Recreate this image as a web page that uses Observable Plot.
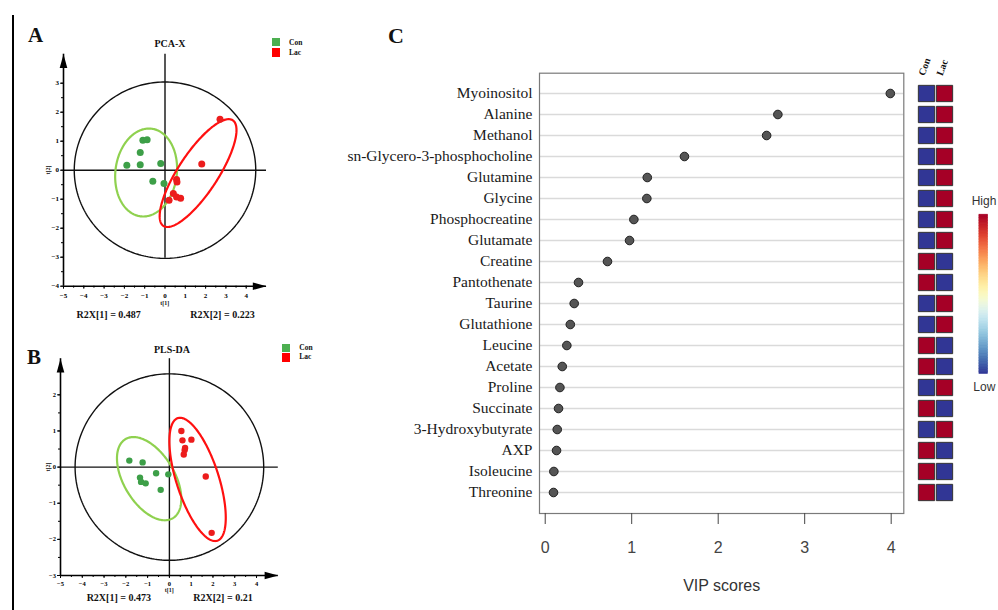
<!DOCTYPE html>
<html><head><meta charset="utf-8">
<script src="https://cdn.jsdelivr.net/npm/d3@7"></script>
<script src="https://cdn.jsdelivr.net/npm/@observablehq/plot@0.6"></script>
<style>
body{margin:0;background:#fff;}
#fig{position:relative;width:998px;height:610px;overflow:hidden;background:#fff;}
#fig svg{position:absolute;overflow:visible;}
.t{position:absolute;white-space:nowrap;line-height:1;color:#111;}
</style></head><body><div id="fig"></div>
<script>
// ---------------- DATA ----------------
const groups = ["Con", "Lac"];
// Panel A (PCA-X) scores
const pcaConX = [-1.88, -1.22, -1.22, -1.09, -0.88, -0.21, -0.60, -0.05];
const pcaConY = [0.17, 0.19, 0.61, 1.03, 1.05, 0.23, -0.38, -0.46];
const pcaLacX = [2.71, 1.81, 0.57, 0.59, 0.41, 0.57, 0.77, 0.20];
const pcaLacY = [1.76, 0.21, -0.32, -0.41, -0.80, -0.92, -0.97, -1.04];
// Panel B (PLS-DA) scores
const plsConX = [-1.84, -1.23, -1.35, -1.30, -1.09, -0.61, -0.05, -0.40];
const plsConY = [0.18, 0.13, -0.29, -0.41, -0.45, -0.17, -0.20, -0.63];
const plsLacX = [0.55, 0.60, 1.01, 0.72, 0.66, 1.67, 1.94, 0.70];
const plsLacY = [1.00, 0.74, 0.76, 0.53, 0.35, -0.26, -1.82, 0.47];
// Ellipses: [cx, cy, ax, ay, bx, by] = centre + two conjugate semi-diameters (data units)
const pcaT2 = [0, 0, 4.47, 0, 0, 3.04];
const pcaConEll = [-0.93, -0.08, 0.277, 1.51, 1.50, -0.136];
const pcaLacEll = [1.63, -0.10, 1.71, 1.82, 0.81, -0.38];
const plsT2 = [0, 0, 4.33, 0, 0, 2.58];
const plsConEll = [-0.93, -0.32, -1.087, 1.094, 1.0, 0.36];
const plsLacEll = [1.294, -0.341, -0.905, 1.696, 0.925, 0.179];
// axis extents
const pcaXDomain = [-5, 5], pcaYDomain = [-4, 4];
const plsXDomain = [-5, 5], plsYDomain = [-3, 3];
const pcaXTicks = [-5, -4, -3, -2, -1, 0, 1, 2, 3, 4];
const pcaYTicks = [-4, -3, -2, -1, 0, 1, 2, 3];
const plsXTicks = [-5, -4, -3, -2, -1, 0, 1, 2, 3, 4];
const plsYTicks = [-3, -2, -1, 0, 1, 2];
const r2xA = ["R2X[1] = 0.487", "R2X[2] = 0.223"];
const r2xB = ["R2X[1] = 0.473", "R2X[2] = 0.21"];
// Panel C
const metabolites = ["Myoinositol", "Alanine", "Methanol", "sn-Glycero-3-phosphocholine", "Glutamine",
  "Glycine", "Phosphocreatine", "Glutamate", "Creatine", "Pantothenate", "Taurine", "Glutathione",
  "Leucine", "Acetate", "Proline", "Succinate", "3-Hydroxybutyrate", "AXP", "Isoleucine", "Threonine"];
const vipScores = [3.99, 2.69, 2.56, 1.61, 1.18, 1.175, 1.025, 0.975, 0.72, 0.385, 0.335, 0.29,
  0.25, 0.197, 0.17, 0.154, 0.139, 0.131, 0.10, 0.096];
const vipTicks = [0, 1, 2, 3, 4];
const conLevel = [-1, -1, -1, -1, -1, -1, -1, -1, 1, 1, -1, -1, 1, 1, -1, 1, -1, 1, 1, 1];
const lacLevel = [1, 1, 1, 1, 1, 1, 1, 1, -1, -1, 1, 1, -1, -1, 1, -1, 1, -1, -1, -1];
const legendLabels = ["High", "Low"];

// ---------------- HELPERS ----------------
const fig = document.getElementById("fig");
const SERIF = "'Liberation Serif','Times New Roman',serif";
const SANS = "'Liberation Sans',Arial,sans-serif";
const intFmt = d => String(d).replace("-", "\u2212");
function place(svg, left, top) { svg.style.left = left + "px"; svg.style.top = top + "px"; fig.appendChild(svg); }
function txt(s, x, base, o = {}) {
  const size = o.size || 10, d = document.createElement("div");
  d.className = "t"; d.textContent = s;
  d.style.fontSize = size + "px"; d.style.fontFamily = o.family || SERIF;
  d.style.fontWeight = o.weight || "normal";
  d.style.left = x + "px"; d.style.top = (base - 0.84 * size) + "px";
  if (o.anchor === "middle") d.style.transform = "translateX(-50%)";
  if (o.anchor === "end") d.style.transform = "translateX(-100%)";
  if (o.rotate) { d.style.top = base + "px"; d.style.transform = `translate(-50%,-50%) rotate(${o.rotate}deg)`; }
  fig.appendChild(d); return d;
}
function box(x, y, w, h, color) {
  const d = document.createElement("div");
  Object.assign(d.style, {position: "absolute", left: x + "px", top: y + "px", width: w + "px", height: h + "px", background: color});
  fig.appendChild(d);
}
function ellipse(e) {
  return d3.range(0, 2 * Math.PI, Math.PI / 120).map(t => ({
    x: e[0] + e[2] * Math.cos(t) + e[4] * Math.sin(t),
    y: e[1] + e[3] * Math.cos(t) + e[5] * Math.sin(t)}));
}
const pts = (xs, ys) => xs.map((x, i) => ({x, y: ys[i]}));
const arrowHead = {draw(ctx, size) { const r = Math.sqrt(size / Math.PI);
  ctx.moveTo(0, 0); ctx.lineTo(r, 3.6 * r); ctx.lineTo(-r, 3.6 * r); ctx.closePath(); }};
const halfSteps = (d) => d3.range(d[0], d[1] + 1e-9, 0.5);

function scatter(cfg) {
  const [x0, x1] = cfg.xd, [y0, y1] = cfg.yd;
  return Plot.plot({
    width: cfg.width, height: cfg.height,
    marginLeft: cfg.ml, marginRight: cfg.mr, marginTop: cfg.mt, marginBottom: cfg.mb,
    x: {domain: cfg.xd}, y: {domain: cfg.yd},
    style: {background: "none", overflow: "visible"},
    marks: [
      Plot.line(ellipse(cfg.T2), {x: "x", y: "y", curve: "linear-closed", stroke: "#111", strokeWidth: 1.4}),
      Plot.ruleY([0], {x1: x0, x2: x1, stroke: "#111", strokeWidth: 1.4}),
      Plot.ruleX([0], {y1: cfg.vToAxis ? y0 : -cfg.T2[5], y2: y1, stroke: "#111", strokeWidth: 1.4}),
      Plot.line(ellipse(cfg.conE), {x: "x", y: "y", curve: "linear-closed", stroke: "#8fd14f", strokeWidth: 2.2}),
      Plot.line(ellipse(cfg.lacE), {x: "x", y: "y", curve: "linear-closed", stroke: "#ff1010", strokeWidth: 2.2}),
      Plot.dot(cfg.con, {x: "x", y: "y", r: cfg.r, fill: "#3d9f48"}),
      Plot.dot(cfg.lac, {x: "x", y: "y", r: cfg.r, fill: "#ec1c1c"}),
      Plot.ruleX([x0], {y1: y0, y2: y1, stroke: "#000", strokeWidth: 1.6}),
      Plot.ruleY([y0], {x1: x0, x2: x1, stroke: "#000", strokeWidth: 1.6}),
      Plot.dot([{x: x0, y: y1, rot: 0}, {x: x1, y: y0, rot: 90}],
        {x: "x", y: "y", rotate: "rot", symbol: arrowHead, r: 3.8, fill: "#000", stroke: "none"}),
      Plot.axisX({ticks: halfSteps([x0, x1 - 1]), tickSize: 2, tickFormat: () => "", label: null}),
      Plot.axisY({ticks: halfSteps([y0, y1 - 1]), tickSize: 2, tickFormat: () => "", label: null}),
      Plot.axisX({ticks: cfg.xt, tickSize: 3, tickPadding: cfg.xpad, tickFormat: intFmt, fontSize: cfg.fs, fontFamily: SERIF, fontWeight: "bold", label: null}),
      Plot.axisY({ticks: cfg.yt, tickSize: 3, tickPadding: 1.5, tickFormat: intFmt, fontSize: cfg.fs, fontFamily: SERIF, fontWeight: "bold", label: null})
    ]
  });
}

// ---------------- PANEL A ----------------
place(scatter({width: 320, height: 330, ml: 63, mr: 54, mt: 53.7, mb: 44.3,
  xd: pcaXDomain, yd: pcaYDomain, xt: pcaXTicks, yt: pcaYTicks, xpad: 3.5, fs: 7, r: 3.5,
  T2: pcaT2, conE: pcaConEll, lacE: pcaLacEll, vToAxis: false,
  con: pts(pcaConX, pcaConY), lac: pts(pcaLacX, pcaLacY)}), 0, 0);
// ---------------- PANEL B ----------------
place(scatter({width: 320, height: 280, ml: 60, mr: 42.2, mt: 28.2, mb: 35,
  xd: plsXDomain, yd: plsYDomain, xt: plsXTicks, yt: plsYTicks, xpad: 2.8, fs: 6.5, r: 3.2,
  T2: plsT2, conE: plsConEll, lacE: plsLacEll, vToAxis: true,
  con: pts(plsConX, plsConY), lac: pts(plsLacX, plsLacY)}), 0, 330);

// ---------------- PANEL C ----------------
const vipData = metabolites.map((m, i) => ({metabolite: m, vip: vipScores[i]}));
place(Plot.plot({
  width: 530, height: 550, marginLeft: 159, marginRight: 6.7, marginTop: 12.7, marginBottom: 97,
  x: {domain: [-0.066, 4.146]},
  y: {type: "point", domain: metabolites, padding: 0.94},
  style: {background: "none", overflow: "visible"},
  marks: [
    Plot.ruleY(metabolites, {stroke: "#dadada", strokeWidth: 1.3}),
    Plot.frame({stroke: "#7a7a7a", strokeWidth: 1.2}),
    Plot.dot(vipData, {x: "vip", y: "metabolite", r: 4.3, fill: "#555", stroke: "#1e1e1e", strokeWidth: 1}),
    Plot.axisY({tickSize: 0, tickPadding: 7, fontSize: 15.5, fontFamily: SERIF, label: null, color: "#1a1a1a"}),
    Plot.axisX({ticks: vipTicks, tickSize: 11, tickPadding: 17, tickFormat: intFmt, fontSize: 16, fontFamily: SANS, label: null, color: "#444"})
  ]
}), 380, 60);

// heatmap
const heatData = metabolites.flatMap((m, i) => [
  {group: groups[0], metabolite: m, level: conLevel[i]},
  {group: groups[1], metabolite: m, level: lacLevel[i]}]);
const colorScale = {type: "linear", scheme: "RdYlBu", reverse: true, domain: [-1, 1]};
place(Plot.plot({
  width: 60, height: 550, marginTop: 12.7, marginBottom: 97, marginLeft: 21, marginRight: 21,
  x: {type: "point", domain: groups, padding: 0, axis: null},
  y: {type: "point", domain: metabolites, padding: 0.94, axis: null},
  color: colorScale,
  style: {background: "none", overflow: "visible"},
  marks: [
    Plot.dot(heatData, {x: "group", y: "metabolite", fill: "level", symbol: "square", r: 9.2, stroke: "#333", strokeWidth: 1}),
    Plot.text(groups, {x: d => d, frameAnchor: "top", dy: 3, dx: -2, rotate: -70, textAnchor: "start", lineAnchor: "bottom",
      fontFamily: SERIF, fontSize: 10, fontWeight: "bold", fill: "#111"})
  ]
}), 905, 60);

// colour ramp legend
const rampSteps = d3.range(-1, 1, 0.02);
place(Plot.plot({
  width: 28, height: 210, marginTop: 24.3, marginBottom: 26.7, marginLeft: 9, marginRight: 10.7,
  x: {domain: [0, 1], axis: null}, y: {domain: [-1, 1], axis: null},
  color: colorScale,
  style: {background: "none", overflow: "visible"},
  marks: [Plot.rect(rampSteps, {x1: 0, x2: 1, y1: d => d, y2: d => d + 0.02, fill: d => d + 0.01,
    stroke: d => d + 0.01, strokeWidth: 0.8, inset: 0})]
}), 970, 190);

// ---------------- TEXT ----------------
const line = document.createElement("div");
Object.assign(line.style, {position: "absolute", left: "12px", top: "15px", width: "1.5px", height: "600px", background: "#000"});
fig.appendChild(line);

txt("A", 28, 43, {size: 21, weight: "bold"});
txt("B", 27, 365, {size: 21, weight: "bold"});
txt("C", 388, 43.3, {size: 22, weight: "bold"});
txt("PCA-X", 170, 47.3, {size: 10, weight: "bold", anchor: "middle"});
txt("PLS-DA", 172, 353.3, {size: 10, weight: "bold", anchor: "middle"});
// legends A and B
box(271.7, 38.3, 8.3, 7.7, "#4caf50"); box(271.7, 48.3, 8.3, 8.3, "#ff0000");
txt(groups[0], 289, 45, {size: 7.5, weight: "bold"}); txt(groups[1], 289, 55, {size: 7.5, weight: "bold"});
box(281.7, 344, 8.3, 7.7, "#4caf50"); box(281.7, 353.3, 8.3, 8.3, "#ff0000");
txt(groups[0], 299.3, 349.8, {size: 7.5, weight: "bold"}); txt(groups[1], 299.3, 359.3, {size: 7.5, weight: "bold"});
// R2X
txt(r2xA[0], 108.7, 318.3, {size: 10, weight: "bold", anchor: "middle"});
txt(r2xA[1], 222.5, 318.3, {size: 10, weight: "bold", anchor: "middle"});
txt(r2xB[0], 118.8, 601.7, {size: 10, weight: "bold", anchor: "middle"});
txt(r2xB[1], 223, 601.7, {size: 10, weight: "bold", anchor: "middle"});
// axis titles A, B
txt("t[1]", 164.7, 305.5, {size: 6, weight: "bold", anchor: "middle"});
txt("t[2]", 47.7, 170, {size: 6, weight: "bold", rotate: -90});
txt("t[1]", 169.3, 592, {size: 6, weight: "bold", anchor: "middle"});
txt("t[2]", 47.7, 466.6, {size: 6, weight: "bold", rotate: -90});
// panel C
txt("VIP scores", 721.7, 591, {size: 16, family: SANS, anchor: "middle"}).style.color = "#333";
txt(legendLabels[0], 984, 205, {size: 12, family: SANS, anchor: "middle"}).style.color = "#333";
txt(legendLabels[1], 984.3, 390.7, {size: 12, family: SANS, anchor: "middle"}).style.color = "#333";
</script></body></html>
